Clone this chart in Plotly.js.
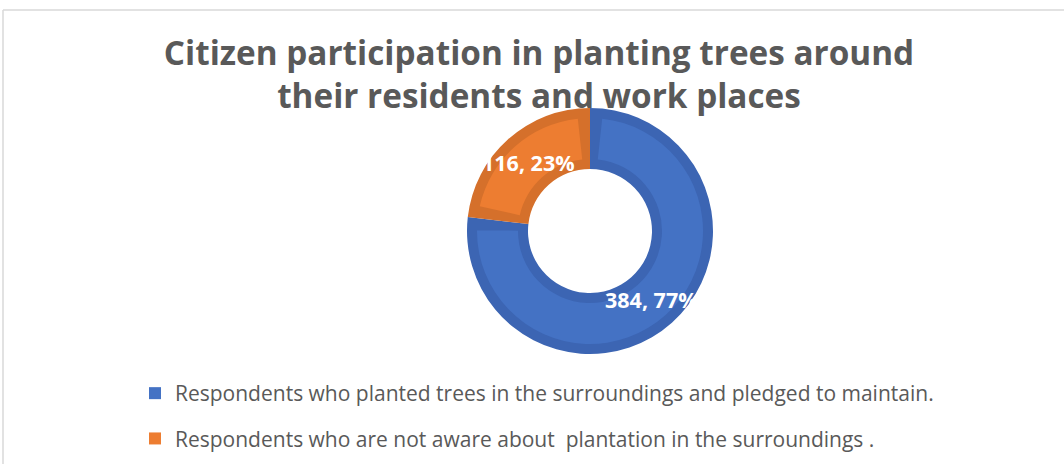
<!DOCTYPE html>
<html>
<head>
<meta charset="utf-8">
<script src="https://cdn.plot.ly/plotly-3.0.1.min.js"></script>
<style>html,body{margin:0;padding:0;background:#fff;}#chart{width:1064px;height:464px;}</style>
</head>
<body>
<div id="chart"></div>
<script>
// ---- data ----
const categories = [
  'Respondents who planted trees in the surroundings and pledged to maintain.',
  'Respondents who are not aware about\u00a0 plantation in the surroundings .'
];
const counts = [384, 116];
const titleLines = ['Citizen participation in planting trees around', 'their residents and work places'];

// ---- style ----
const W = 1064, H = 464;
const FONT = '"Open Sans", sans-serif';
const fillColors = ['#4472C4', '#ED7D31'];
const edgeColors = ['#3C65B3', '#D5702B'];
const CX = 590, CY = 231, R_OUT = 123, R_IN = 62, BAND = 10;

function dom(r) {
  return {x: [(CX - r) / W, (CX + r) / W], y: [1 - (CY + r) / H, 1 - (CY - r) / H]};
}

const total = counts.reduce((a, b) => a + b, 0);
const rMid = (R_OUT + R_IN) / 2;
const gap = total * (BAND / rMid) / (2 * Math.PI);

const traces = [];

// legend entries (one group per category so the entries can be spaced)
categories.forEach((c, i) => {
  traces.push({
    type: 'pie', labels: [c], values: [counts[i]], sort: false,
    marker: {colors: [fillColors[i]]},
    domain: {x: [0.6, 0.6005], y: [0.4, 0.4005]},
    textinfo: 'none', hoverinfo: 'skip', legendgroup: 'g' + i, showlegend: true
  });
});

// outer darker ring
traces.push({
  type: 'pie', labels: categories, values: counts, sort: false, direction: 'clockwise', rotation: 0,
  hole: R_IN / R_OUT, domain: dom(R_OUT),
  marker: {colors: edgeColors, line: {width: 0}},
  textinfo: 'none', hoverinfo: 'label+value+percent', showlegend: false
});

// inner lighter face of each slice
const faceLabels = [], faceValues = [], faceColors = [];
counts.forEach((v, i) => {
  faceLabels.push('gapA' + i, categories[i] + ' ', 'gapB' + i);
  faceValues.push(gap, v - 2 * gap, gap);
  faceColors.push('rgba(0,0,0,0)', fillColors[i], 'rgba(0,0,0,0)');
});
traces.push({
  type: 'pie', labels: faceLabels, values: faceValues, sort: false, direction: 'clockwise', rotation: 0,
  hole: (R_IN + BAND) / (R_OUT - BAND), domain: dom(R_OUT - BAND),
  marker: {colors: faceColors, line: {width: 0}},
  textinfo: 'none', hoverinfo: 'skip', showlegend: false
});

// data labels
const annotations = [];
let cum = 0;
counts.forEach((v) => {
  const th = 2 * Math.PI * (cum + v / 2) / total;
  cum += v;
  annotations.push({
    xref: 'paper', yref: 'paper',
    x: (CX + rMid * Math.sin(th)) / W, y: 1 - (CY - rMid * Math.cos(th)) / H,
    text: v + ', ' + Math.round(100 * v / total) + '%',
    showarrow: false, xanchor: 'center', yanchor: 'middle',
    font: {family: FONT, size: 21.5, color: '#FFFFFF', weight: 700}
  });
});

const layout = {
  width: W, height: H,
  margin: {l: 0, r: 0, t: 0, b: 0},
  paper_bgcolor: '#FFFFFF', plot_bgcolor: '#FFFFFF',
  font: {family: FONT, color: '#595959'},
  title: {
    text: titleLines.join('<br>'),
    font: {family: FONT, size: 33.3, color: '#595959', weight: 700},
    x: 539 / W, xanchor: 'center', xref: 'paper',
    y: 1 - 65 / H, yanchor: 'top', yref: 'container'
  },
  legend: {
    orientation: 'v', x: 135 / W, xanchor: 'left', y: 1 - 373 / H, yanchor: 'top',
    font: {family: FONT, size: 21, color: '#595959'},
    tracegroupgap: 15, bgcolor: 'rgba(0,0,0,0)'
  },
  shapes: [
    {type: 'line', xref: 'paper', yref: 'paper', x0: 3 / W, x1: 1, y0: 1 - 10 / H, y1: 1 - 10 / H, line: {color: '#D9D9D9', width: 1.5}},
    {type: 'line', xref: 'paper', yref: 'paper', x0: 3 / W, x1: 3 / W, y0: 1 - 10 / H, y1: 0, line: {color: '#D9D9D9', width: 1.5}}
  ],
  annotations: annotations,
  showlegend: true
};

Plotly.newPlot('chart', traces, layout, {displayModeBar: false, staticPlot: true});
</script>
</body>
</html>
